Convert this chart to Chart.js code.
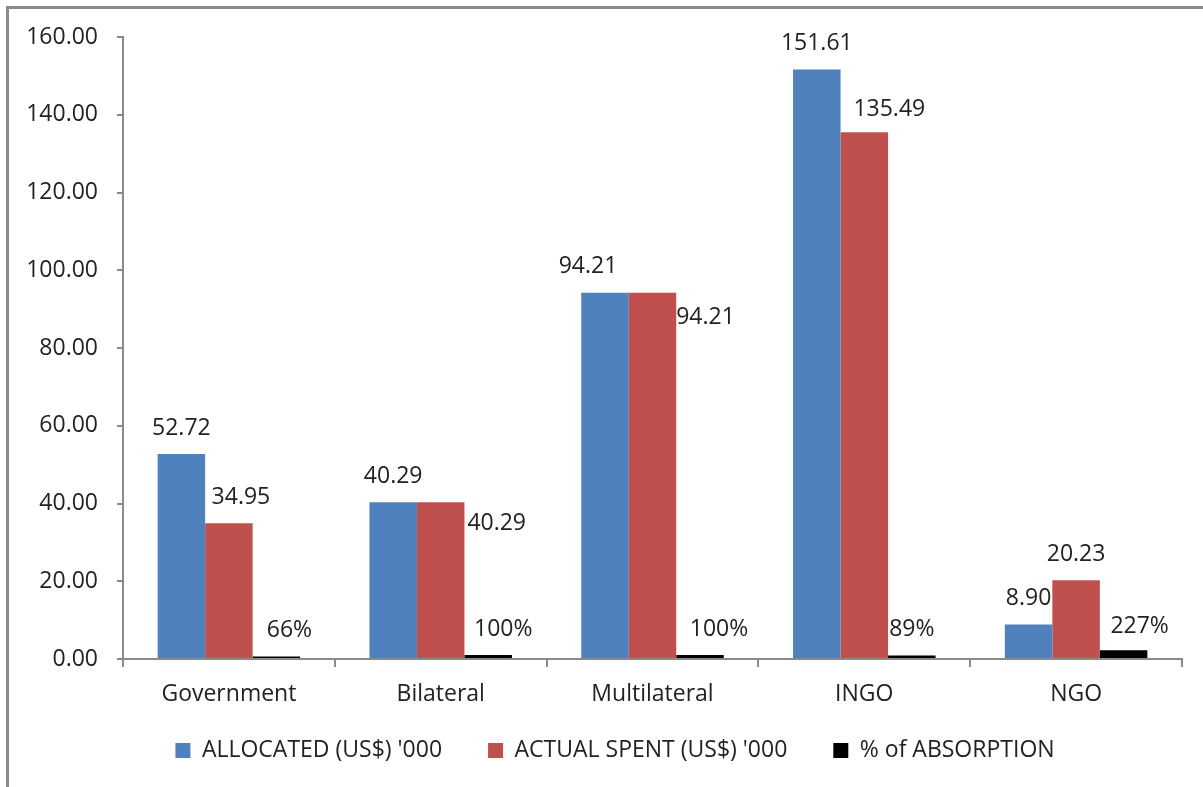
<!DOCTYPE html>
<html>
<head>
<meta charset="utf-8">
<script src="https://cdn.jsdelivr.net/npm/chart.js@4/dist/chart.umd.min.js"></script>
<style>
  html, body { margin: 0; padding: 0; background: #fff; overflow: hidden; }
  #wrap { position: relative; width: 1203px; height: 787px; }
  #frame { position: absolute; left: 6px; top: 6px; width: 1210px; height: 800px;
           border: 3px solid #8a8a8a; pointer-events: none; }
</style>
</head>
<body>
<div id="wrap">
  <canvas id="chart" width="1203" height="787"></canvas>
  <div id="frame"></div>
</div>
<script>
// data
var categories = ["Government", "Bilateral", "Multilateral", "INGO", "NGO"];
var allocated = [52.72, 40.29, 94.21, 151.61, 8.90];
var actualSpent = [34.95, 40.29, 94.21, 135.49, 20.23];
var absorption = [0.66, 1.00, 1.00, 0.89, 2.27];
var seriesNames = ["ALLOCATED (US$) '000", "ACTUAL SPENT (US$) '000", "% of ABSORPTION"];
var yTicks = [0, 20, 40, 60, 80, 100, 120, 140, 160];

var textColor = '#222';
var axisColor = '#8a8a8a';
var fontFamily = "'Open Sans', 'Liberation Sans', sans-serif";

// label nudges (px) so the value labels sit where the original puts them
var labelNudgeX = [[0, 0, -17, 0, 0], [12, 56, 53, 25, 0], [13, 15, 19, 0, 16]];
var labelNudgeY = [[0, 0, 0, 0, 0], [0, 47, 51, 3, 0], [0, 0, 0, 0, 2]];

function formatValue(dsIndex, v) {
    if (dsIndex === 2) return Math.round(v * 100) + '%';
    return v.toFixed(2);
}

var valueLabels = {
    id: 'valueLabels',
    afterDatasetsDraw: function (chart) {
        var ctx = chart.ctx;
        ctx.save();
        ctx.font = '23px ' + fontFamily;
        ctx.fillStyle = textColor;
        ctx.textAlign = 'center';
        ctx.textBaseline = 'middle';
        chart.data.datasets.forEach(function (ds, i) {
            var meta = chart.getDatasetMeta(i);
            meta.data.forEach(function (bar, j) {
                var x = bar.x + labelNudgeX[i][j];
                var y = bar.y - 26 + labelNudgeY[i][j];
                ctx.fillText(formatValue(i, ds.data[j]), x, y);
            });
        });
        ctx.restore();
    }
};

// move the legend row up a bit and centre it under the whole picture
var legendNudge = {
    id: 'legendNudge',
    afterLayout: function (chart) {
        var lg = chart.legend;
        lg.top -= 16;
        lg.bottom -= 16;
        lg.left += 24;
        lg.right += 24;
    }
};

new Chart(document.getElementById('chart').getContext('2d'), {
    type: 'bar',
    data: {
        labels: categories,
        datasets: [
            { label: seriesNames[0], data: allocated, backgroundColor: '#4F81BD' },
            { label: seriesNames[1], data: actualSpent, backgroundColor: '#C0504D' },
            { label: seriesNames[2], data: absorption, backgroundColor: '#000000' }
        ]
    },
    options: {
        responsive: false,
        animation: false,
        events: [],
        datasets: {
            bar: { categoryPercentage: 0.673, barPercentage: 1.0, borderWidth: 0 }
        },
        layout: { padding: { left: 0, right: 21, top: 37, bottom: 0 } },
        plugins: {
            tooltip: { enabled: false },
            legend: {
                position: 'bottom',
                maxHeight: 78,
                labels: {
                    boxWidth: 15,
                    boxHeight: 15,
                    padding: 46,
                    color: textColor,
                    font: { family: fontFamily, size: 23 }
                }
            }
        },
        scales: {
            x: {
                offset: true,
                grid: { offset: true, drawOnChartArea: false, tickLength: 8, color: axisColor, lineWidth: 2 },
                border: { color: axisColor, width: 2 },
                ticks: { color: textColor, padding: 14, font: { family: fontFamily, size: 23 } },
                afterFit: function (scale) { scale.height = 50; }
            },
            y: {
                min: 0,
                max: 160,
                afterBuildTicks: function (scale) {
                    scale.ticks = yTicks.map(function (v) { return { value: v }; });
                },
                grid: { drawOnChartArea: false, tickLength: 6, color: axisColor, lineWidth: 2 },
                border: { color: axisColor, width: 2 },
                ticks: {
                    color: textColor,
                    padding: 19,
                    font: { family: fontFamily, size: 23 },
                    callback: function (v) { return Number(v).toFixed(2); }
                },
                afterFit: function (scale) { scale.width = 123; }
            }
        }
    },
    plugins: [valueLabels, legendNudge]
});
</script>
</body>
</html>
